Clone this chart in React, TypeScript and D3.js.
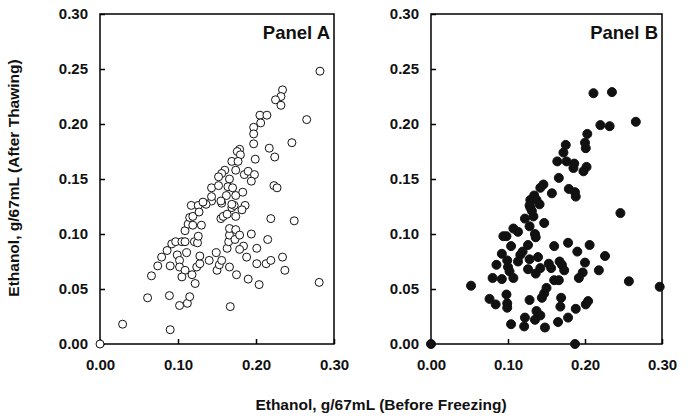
import React, { useEffect, useRef } from 'react';
import * as d3 from 'd3';

// [before freezing, after thawing] g/67mL
const panelAPoints: [number, number][] = [
  [0.0, 0.0], [0.029, 0.018], [0.09, 0.013], [0.061, 0.042], [0.089, 0.044],
  [0.102, 0.035], [0.112, 0.037], [0.115, 0.043], [0.167, 0.034], [0.066, 0.062],
  [0.074, 0.071], [0.079, 0.079], [0.09, 0.071], [0.086, 0.085], [0.092, 0.091],
  [0.097, 0.093], [0.105, 0.093], [0.109, 0.093], [0.099, 0.081], [0.102, 0.076],
  [0.102, 0.07], [0.111, 0.083], [0.109, 0.067], [0.105, 0.061], [0.118, 0.063],
  [0.122, 0.055], [0.124, 0.07], [0.128, 0.073], [0.128, 0.08], [0.121, 0.093],
  [0.125, 0.092], [0.126, 0.098], [0.109, 0.103], [0.113, 0.109], [0.119, 0.108],
  [0.115, 0.115], [0.119, 0.116], [0.13, 0.108], [0.117, 0.126], [0.126, 0.126],
  [0.127, 0.12], [0.14, 0.076], [0.149, 0.083], [0.15, 0.067], [0.153, 0.072],
  [0.156, 0.076], [0.166, 0.07], [0.163, 0.087], [0.165, 0.093], [0.166, 0.099],
  [0.166, 0.105], [0.174, 0.104], [0.173, 0.095], [0.179, 0.099], [0.184, 0.089],
  [0.179, 0.086], [0.175, 0.063], [0.188, 0.079], [0.19, 0.059], [0.204, 0.054],
  [0.201, 0.073], [0.201, 0.087], [0.194, 0.1], [0.215, 0.095], [0.213, 0.073],
  [0.219, 0.076], [0.234, 0.079], [0.237, 0.067], [0.219, 0.114], [0.249, 0.112],
  [0.281, 0.056], [0.155, 0.114], [0.158, 0.116], [0.163, 0.118], [0.174, 0.116],
  [0.169, 0.124], [0.172, 0.126], [0.186, 0.126], [0.182, 0.122], [0.156, 0.128],
  [0.143, 0.13], [0.136, 0.127], [0.282, 0.248], [0.234, 0.231], [0.232, 0.225],
  [0.225, 0.222], [0.232, 0.217], [0.205, 0.208], [0.214, 0.208], [0.206, 0.201],
  [0.197, 0.197], [0.197, 0.191], [0.197, 0.182], [0.265, 0.204], [0.246, 0.183],
  [0.217, 0.178], [0.224, 0.17], [0.199, 0.168], [0.179, 0.177], [0.176, 0.175],
  [0.18, 0.172], [0.169, 0.166], [0.177, 0.166], [0.174, 0.158], [0.16, 0.158],
  [0.156, 0.155], [0.152, 0.152], [0.166, 0.15], [0.185, 0.154], [0.19, 0.157],
  [0.198, 0.154], [0.194, 0.148], [0.223, 0.144], [0.227, 0.142], [0.143, 0.142],
  [0.152, 0.144], [0.164, 0.143], [0.17, 0.142], [0.143, 0.134], [0.162, 0.135],
  [0.174, 0.135], [0.183, 0.138], [0.155, 0.13], [0.169, 0.127], [0.132, 0.129],
];

const panelBPoints: [number, number][] = [
  [0.0, 0.0], [0.187, 0.0], [0.052, 0.053], [0.297, 0.052], [0.257, 0.057],
  [0.246, 0.119], [0.076, 0.041], [0.084, 0.036], [0.098, 0.045], [0.099, 0.037],
  [0.099, 0.033], [0.104, 0.018], [0.121, 0.016], [0.122, 0.024], [0.128, 0.04],
  [0.135, 0.022], [0.137, 0.03], [0.142, 0.026], [0.148, 0.015], [0.144, 0.042],
  [0.147, 0.046], [0.15, 0.051], [0.165, 0.02], [0.168, 0.034], [0.169, 0.042],
  [0.178, 0.024], [0.188, 0.032], [0.201, 0.036], [0.204, 0.039], [0.08, 0.06],
  [0.092, 0.059], [0.107, 0.06], [0.085, 0.072], [0.099, 0.076], [0.1, 0.07],
  [0.102, 0.066], [0.092, 0.082], [0.104, 0.089], [0.094, 0.098], [0.098, 0.098],
  [0.107, 0.105], [0.113, 0.102], [0.116, 0.081], [0.113, 0.075], [0.119, 0.084],
  [0.126, 0.09], [0.128, 0.077], [0.126, 0.068], [0.136, 0.064], [0.139, 0.079],
  [0.142, 0.069], [0.153, 0.073], [0.156, 0.069], [0.16, 0.089], [0.16, 0.058],
  [0.166, 0.058], [0.167, 0.075], [0.17, 0.072], [0.173, 0.067], [0.178, 0.092],
  [0.19, 0.084], [0.206, 0.09], [0.2, 0.074], [0.197, 0.065], [0.192, 0.06],
  [0.218, 0.067], [0.226, 0.08], [0.122, 0.114], [0.128, 0.107], [0.133, 0.116],
  [0.135, 0.1], [0.136, 0.097], [0.147, 0.11], [0.129, 0.124], [0.131, 0.121],
  [0.141, 0.127], [0.211, 0.228], [0.235, 0.229], [0.266, 0.202], [0.22, 0.199],
  [0.232, 0.198], [0.203, 0.191], [0.2, 0.183], [0.201, 0.178], [0.175, 0.181],
  [0.172, 0.174], [0.164, 0.166], [0.176, 0.166], [0.186, 0.164], [0.185, 0.16],
  [0.202, 0.161], [0.198, 0.157], [0.166, 0.151], [0.146, 0.145], [0.142, 0.142],
  [0.157, 0.137], [0.179, 0.141], [0.187, 0.138], [0.188, 0.134], [0.134, 0.135],
  [0.129, 0.131], [0.137, 0.131], [0.128, 0.126],
];

const xTicks = [0, 0.1, 0.2, 0.3];
const yTicks = [0, 0.05, 0.1, 0.15, 0.2, 0.25, 0.3];

const W = 688;
const H = 419;
const FONT = '"Liberation Sans", Arial, sans-serif';

const App = () => {
  const ref = useRef<SVGSVGElement>(null);

  useEffect(() => {
    const svg = d3.select(ref.current);
    svg.selectAll('*').remove();

    const panels = [
      { name: 'Panel A', data: panelAPoints, left: 100, right: 334, filled: false },
      { name: 'Panel B', data: panelBPoints, left: 431, right: 662, filled: true },
    ];
    const top = 14;
    const bottom = 344;

    panels.forEach(p => {
      const x = d3.scaleLinear().domain([0, 0.3]).range([p.left, p.right]);
      const y = d3.scaleLinear().domain([0, 0.3]).range([bottom, top]);
      const g = svg.append('g');

      const xAxis = g.append('g')
        .attr('transform', `translate(0,${bottom})`)
        .call(d3.axisBottom(x).tickValues(xTicks).tickFormat(d3.format('.2f')).tickSize(-5).tickPadding(15));
      const yAxis = g.append('g')
        .attr('transform', `translate(${p.left},0)`)
        .call(d3.axisLeft(y).tickValues(yTicks).tickFormat(d3.format('.2f')).tickSize(-5).tickPadding(12));

      [xAxis, yAxis].forEach(a => {
        a.select('.domain').remove();
        a.selectAll('line').attr('stroke', '#000').attr('stroke-width', 1.5);
        a.selectAll('text')
          .attr('fill', '#111')
          .style('font-family', FONT)
          .style('font-weight', 'bold')
          .style('font-size', '15px');
      });

      g.append('rect')
        .attr('x', p.left)
        .attr('y', top)
        .attr('width', p.right - p.left)
        .attr('height', bottom - top)
        .attr('fill', 'none')
        .attr('stroke', '#000')
        .attr('stroke-width', 1.5);

      g.append('text')
        .attr('x', p.right - 4)
        .attr('y', 39)
        .attr('text-anchor', 'end')
        .style('font-family', FONT)
        .style('font-weight', 'bold')
        .style('font-size', '18.5px')
        .attr('fill', '#111')
        .text(p.name);

      g.selectAll('circle')
        .data(p.data)
        .enter()
        .append('circle')
          .attr('cx', d => x(d[0]))
          .attr('cy', d => y(d[1]))
          .attr('r', p.filled ? 4.5 : 4)
          .attr('fill', p.filled ? '#111' : '#fff')
          .attr('stroke', '#111')
          .attr('stroke-width', 1);
    });

    svg.append('text')
      .attr('transform', `translate(19,178) rotate(-90)`)
      .attr('text-anchor', 'middle')
      .style('font-family', FONT)
      .style('font-weight', 'bold')
      .style('font-size', '15.5px')
      .attr('fill', '#111')
      .text('Ethanol, g/67mL (After Thawing)');

    svg.append('text')
      .attr('x', 381)
      .attr('y', 410)
      .attr('text-anchor', 'middle')
      .style('font-family', FONT)
      .style('font-weight', 'bold')
      .style('font-size', '15.5px')
      .attr('fill', '#111')
      .text('Ethanol, g/67mL (Before Freezing)');
  });

  return (
    <svg
      ref={ref}
      width={W}
      height={H}
      style={{ position: 'absolute', left: 0, top: 0, background: '#fff' }}
    />
  );
};

export default App;
